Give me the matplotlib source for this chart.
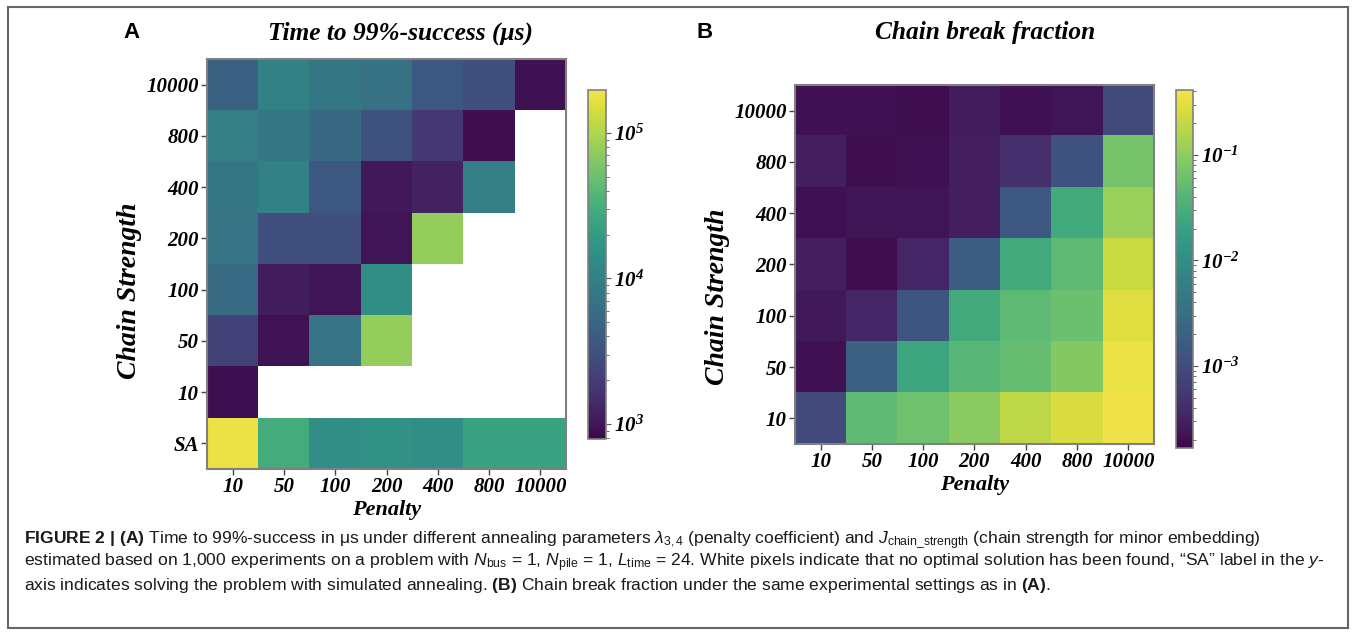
import numpy as np
import matplotlib as mpl
import matplotlib.pyplot as plt
from matplotlib.colors import LogNorm, ListedColormap
from matplotlib.font_manager import FontProperties
from matplotlib.patches import Rectangle

# categories
penalty = ['10', '50', '100', '200', '400', '800', '10000']
strength_a = ['10000', '800', '400', '200', '100', '50', '10', 'SA']
strength_b = ['10000', '800', '400', '200', '100', '50', '10']

nan = np.nan
# time to 99% success (us), rows follow strength_a, columns follow penalty
tts = [
    [4.6e3, 1.06e4, 7.6e3, 6.8e3, 3.7e3, 3.0e3, 930],
    [1.0e4, 7.6e3, 5.4e3, 3.1e3, 1.8e3, 880, nan],
    [7.6e3, 1.06e4, 3.7e3, 1.04e3, 1.23e3, 1.0e4, nan],
    [7.2e3, 3.0e3, 3.0e3, 990, 7.7e4, nan, nan],
    [5.75e3, 1.16e3, 985, 1.47e4, nan, nan, nan],
    [2.25e3, 950, 7.2e3, 7.7e4, nan, nan, nan],
    [900, nan, nan, nan, nan, nan, nan],
    [1.77e5, 3.0e4, 1.39e4, 1.56e4, 1.39e4, 2.4e4, 2.4e4],
]
# chain break fraction, rows follow strength_b
cbf = [
    [2.1e-4, 2.1e-4, 1.95e-4, 2.7e-4, 2.1e-4, 2.3e-4, 9.3e-4],
    [2.9e-4, 1.95e-4, 2.1e-4, 2.9e-4, 4.3e-4, 1.18e-3, 0.069],
    [2.1e-4, 2.3e-4, 2.3e-4, 2.9e-4, 1.49e-3, 0.027, 0.118],
    [2.9e-4, 1.95e-4, 3.4e-4, 1.74e-3, 0.027, 0.046, 0.22],
    [2.5e-4, 3.4e-4, 1.38e-3, 0.027, 0.046, 0.059, 0.30],
    [2.1e-4, 2.0e-3, 0.023, 0.043, 0.054, 0.086, 0.35],
    [9.3e-4, 0.050, 0.063, 0.094, 0.19, 0.28, 0.38],
]

cap_font = 'Liberation Sans'
plt.rcParams['mathtext.fontset'] = 'custom'
plt.rcParams['mathtext.rm'] = cap_font
plt.rcParams['mathtext.it'] = cap_font + ':italic'
plt.rcParams['mathtext.bf'] = cap_font + ':bold'

# slightly washed-out viridis, like the printed figure
base = plt.cm.viridis(np.linspace(0, 1, 256))[:, :3]
lum = (base @ np.array([0.299, 0.587, 0.114]))[:, None]
cmap = ListedColormap(0.78 * base + 0.22 * lum)
cmap.set_bad('white')

tick_fp = FontProperties(family='Liberation Serif', weight='bold', style='italic', size=15)
title_fp = FontProperties(family='Liberation Serif', weight='bold', style='italic', size=18.3)
xlab_fp = FontProperties(family='Liberation Serif', weight='bold', style='italic', size=16)
ylab_fp = FontProperties(family='Liberation Serif', weight='bold', style='italic', size=20)
spine_col = '#808080'

fig = plt.figure(figsize=(13.56, 6.37), dpi=100)

def heat(ax, cax, data, rows, norm, cticks, ylab_y):
    im = ax.imshow(np.ma.masked_invalid(np.array(data)), cmap=cmap, norm=norm, aspect='auto')
    ax.set_xticks(range(len(penalty)))
    ax.set_xticklabels(penalty)
    ax.set_yticks(range(len(rows)))
    ax.set_yticklabels(rows)
    for lab in ax.get_xticklabels() + ax.get_yticklabels():
        lab.set_fontproperties(tick_fp)
    ax.tick_params(length=4, width=1, color='#444444', pad=2)
    ax.set_xlabel('Penalty', fontproperties=xlab_fp, labelpad=2)
    ax.set_ylabel('Chain Strength', fontproperties=ylab_fp)
    ax.yaxis.set_label_coords(-0.181, ylab_y)
    for s in ax.spines.values():
        s.set_edgecolor(spine_col)
        s.set_linewidth(1.5)
    cb = fig.colorbar(im, cax=cax)
    cb.set_ticks(cticks)
    for lab in cb.ax.get_yticklabels():
        lab.set_fontproperties(tick_fp)
    cb.ax.tick_params(which='both', color='#555555', pad=2)
    cb.outline.set_edgecolor(spine_col)
    cb.outline.set_linewidth(1.2)
    return cb

ax_a = fig.add_axes([0.1527, 0.2637, 0.2647, 0.6436])
cax_a = fig.add_axes([0.4336, 0.3108, 0.0133, 0.5479])
heat(ax_a, cax_a, tts, strength_a, LogNorm(790, 1.97e5), [1e3, 1e4, 1e5], 0.434)

ax_b = fig.add_axes([0.5863, 0.3030, 0.2647, 0.5636])
cax_b = fig.add_axes([0.8673, 0.2967, 0.0125, 0.5620])
heat(ax_b, cax_b, cbf, strength_b, LogNorm(1.67e-4, 0.413), [1e-3, 1e-2, 1e-1], 0.41)

fig.text(400 / 1356, 1 - 33 / 637, 'Time to 99%-success (μs)', fontproperties=title_fp,
         ha='center', va='center')
fig.text(985 / 1356, 1 - 33 / 637, 'Chain break fraction', fontproperties=title_fp,
         ha='center', va='center')
fig.text(132 / 1356, 1 - 33 / 637, 'A', family='Liberation Sans', weight='bold', size=16,
         ha='center', va='center')
fig.text(705 / 1356, 1 - 33 / 637, 'B', family='Liberation Sans', weight='bold', size=16,
         ha='center', va='center')

# caption
cap_lines = [
    r'$\mathbf{FIGURE\ 2\ |\ (A)}$ Time to 99%-success in μs under different annealing parameters '
    r'$\mathit{\lambda}_{3,4}$ (penalty coefficient) and $\mathit{J}_{\rm chain\_strength}$ '
    r'(chain strength for minor embedding)',
    r'estimated based on 1,000 experiments on a problem with $\mathit{N}_{\rm bus}$ = 1, '
    r'$\mathit{N}_{\rm pile}$ = 1, $\mathit{L}_{\rm time}$ = 24. White pixels indicate that no optimal '
    r'solution has been found, “SA” label in the $\mathit{y}$-',
    r'axis indicates solving the problem with simulated annealing. $\mathbf{(B)}$ Chain break fraction '
    r'under the same experimental settings as in $\mathbf{(A)}$.',
]
cap_widths = [1298, 1298, 1100]
caps = []
for i, line in enumerate(cap_lines):
    caps.append(fig.text(24 / 1356, 1 - (543 + 23.5 * i) / 637, line,
                         family=[cap_font, 'DejaVu Sans'], size=12, ha='left', va='baseline',
                         color='#1a1a1a'))

# one size for all caption lines, small enough that none runs past the print's width
renderer = fig.canvas.get_renderer()
scale = min(wd / t.get_window_extent(renderer).width for t, wd in zip(caps, cap_widths))
for t in caps:
    t.set_fontsize(12 * scale)

fig.add_artist(Rectangle((8 / 1356, 1 - 628 / 637), 1340 / 1356, 621 / 637,
                         transform=fig.transFigure, fill=False, edgecolor='#666666', lw=1.5))

fig.savefig('out.png', dpi=100)
